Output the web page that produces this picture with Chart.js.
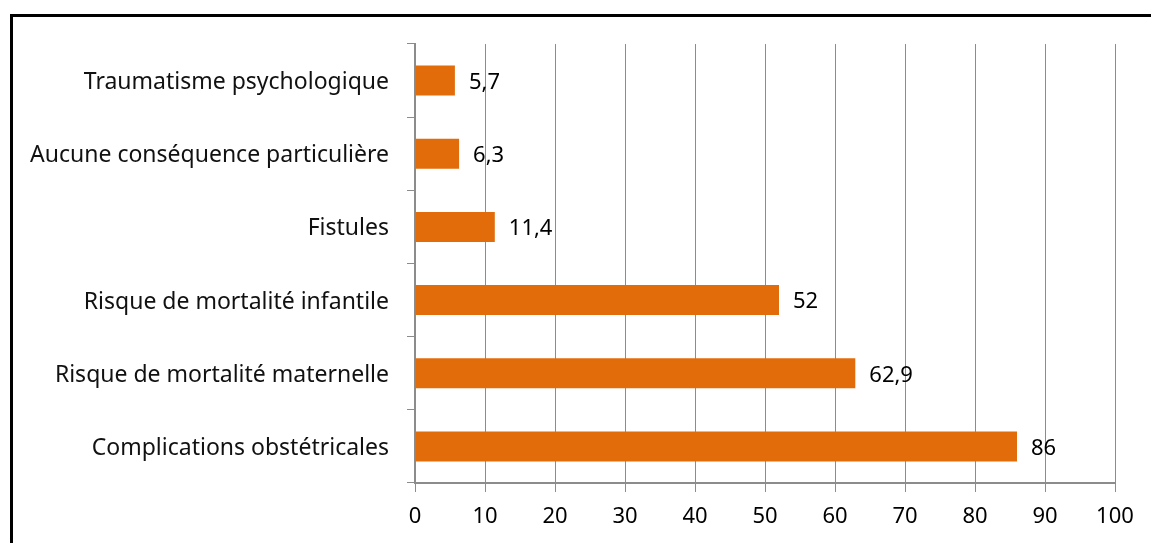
<!DOCTYPE html>
<html>
<head>
<meta charset="utf-8">
<script src="https://cdn.jsdelivr.net/npm/chart.js@4"></script>
<style>
  html, body { margin:0; padding:0; background:#fff; overflow:hidden; }
  #wrap { position:absolute; left:0; top:0; width:1151px; height:543px; }
  #frame { position:absolute; left:10px; top:14px; width:1200px; height:600px; border:3px solid #000; box-sizing:border-box; }
  canvas { position:absolute; left:0; top:0; }
</style>
</head>
<body>
<div id="wrap">
  <div id="frame"></div>
  <canvas id="chart" width="1151" height="543"></canvas>
</div>
<script>
// === DATA ===
const categories = [
    'Traumatisme psychologique',
    'Aucune conséquence particulière',
    'Fistules',
    'Risque de mortalité infantile',
    'Risque de mortalité maternelle',
    'Complications obstétricales'
];
const values = [5.7, 6.3, 11.4, 52, 62.9, 86];
const xTicks = [0, 10, 20, 30, 40, 50, 60, 70, 80, 90, 100];

const FONT = '"Noto Sans", sans-serif';

// value labels drawn after the bars, with comma decimals
const valueLabels = {
    id: 'valueLabels',
    afterDatasetsDraw(chart){
        const ctx = chart.ctx;
        const meta = chart.getDatasetMeta(0);
        ctx.save();
        ctx.font = '22px ' + FONT;
        ctx.fillStyle = '#000';
        ctx.textAlign = 'left';
        ctx.textBaseline = 'middle';
        meta.data.forEach((bar, i)=>{
            const txt = String(values[i]).replace('.', ',');
            ctx.fillText(txt, bar.x + 14, bar.y + 2);
        });
        ctx.restore();
    }
};

new Chart(document.getElementById('chart'), {
    type: 'bar',
    data: {
        labels: categories,
        datasets: [{ data: values, backgroundColor: '#E36C0A', barPercentage: 0.41, categoryPercentage: 1 }]
    },
    options: {
        indexAxis: 'y',
        responsive: false,
        animation: false,
        layout: { padding: { top: 44, right: 36, left: 0, bottom: 0 } },
        plugins: { legend: { display: false }, tooltip: { enabled: false } },
        scales: {
            x: {
                min: 0, max: 100,
                afterBuildTicks: s => { s.ticks = xTicks.map(v => ({ value: v })); },
                afterFit: s => { s.height = 60; },
                grid: { color: '#8c8c8c', lineWidth: 1, tickLength: 9 },
                border: { color: '#8c8c8c', width: 2 },
                ticks: { color: '#000', font: { family: FONT, size: 22 }, padding: 12, maxRotation: 0 }
            },
            y: {
                afterFit: s => { s.width = 415; },
                grid: { drawOnChartArea: false, offset: true, color: '#8c8c8c', tickLength: 8 },
                border: { color: '#8c8c8c', width: 2 },
                ticks: { color: '#111', font: { family: FONT, size: 23 }, padding: 18, labelOffset: 2 }
            }
        }
    },
    plugins: [valueLabels]
});
</script>
</body>
</html>
